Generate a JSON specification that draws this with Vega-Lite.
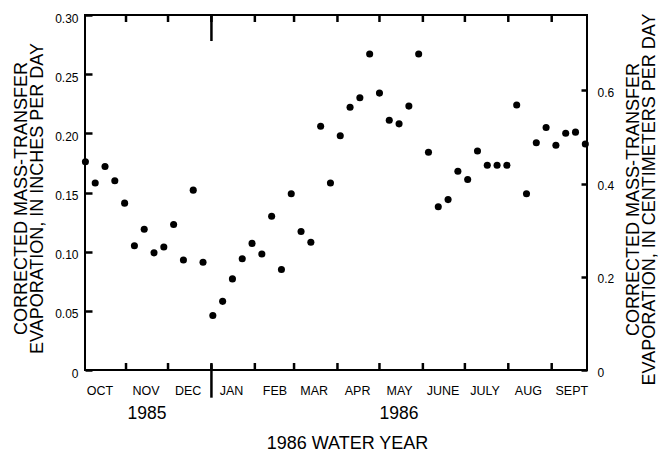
{
  "$schema": "https://vega.github.io/schema/vega-lite/v6.json",
  "width": 502,
  "height": 355,
  "autosize": {"type": "none"},
  "padding": {"left": 85, "top": 15, "right": 71, "bottom": 81},
  "background": "white",
  "config": {
    "view": {"stroke": "black", "strokeWidth": 2},
    "font": "Liberation Sans",
    "axis": {
      "domain": false,
      "grid": false,
      "labelColor": "black",
      "titleColor": "black",
      "labelFont": "Liberation Sans",
      "titleFont": "Liberation Sans",
      "titleFontWeight": "normal",
      "tickColor": "black",
      "tickWidth": 2.5
    }
  },
  "datasets": {
    "evap": [
      {"date": "1985-10-03", "inches": 0.176},
      {"date": "1985-10-10", "inches": 0.158},
      {"date": "1985-10-17", "inches": 0.172},
      {"date": "1985-10-24", "inches": 0.160},
      {"date": "1985-10-31", "inches": 0.141},
      {"date": "1985-11-07", "inches": 0.105},
      {"date": "1985-11-14", "inches": 0.119},
      {"date": "1985-11-21", "inches": 0.099},
      {"date": "1985-11-28", "inches": 0.104},
      {"date": "1985-12-05", "inches": 0.123},
      {"date": "1985-12-12", "inches": 0.093},
      {"date": "1985-12-19", "inches": 0.152},
      {"date": "1985-12-26", "inches": 0.091},
      {"date": "1986-01-02", "inches": 0.046},
      {"date": "1986-01-09", "inches": 0.058},
      {"date": "1986-01-16", "inches": 0.077},
      {"date": "1986-01-23", "inches": 0.094},
      {"date": "1986-01-30", "inches": 0.107},
      {"date": "1986-02-06", "inches": 0.098},
      {"date": "1986-02-13", "inches": 0.130},
      {"date": "1986-02-20", "inches": 0.085},
      {"date": "1986-02-27", "inches": 0.149},
      {"date": "1986-03-06", "inches": 0.117},
      {"date": "1986-03-13", "inches": 0.108},
      {"date": "1986-03-20", "inches": 0.206},
      {"date": "1986-03-27", "inches": 0.158},
      {"date": "1986-04-03", "inches": 0.198},
      {"date": "1986-04-10", "inches": 0.222},
      {"date": "1986-04-17", "inches": 0.230},
      {"date": "1986-04-24", "inches": 0.267},
      {"date": "1986-05-01", "inches": 0.234},
      {"date": "1986-05-08", "inches": 0.211},
      {"date": "1986-05-15", "inches": 0.208},
      {"date": "1986-05-22", "inches": 0.223},
      {"date": "1986-05-29", "inches": 0.267},
      {"date": "1986-06-05", "inches": 0.184},
      {"date": "1986-06-12", "inches": 0.138},
      {"date": "1986-06-19", "inches": 0.144},
      {"date": "1986-06-26", "inches": 0.168},
      {"date": "1986-07-03", "inches": 0.161},
      {"date": "1986-07-10", "inches": 0.185},
      {"date": "1986-07-17", "inches": 0.173},
      {"date": "1986-07-24", "inches": 0.173},
      {"date": "1986-07-31", "inches": 0.173},
      {"date": "1986-08-07", "inches": 0.224},
      {"date": "1986-08-14", "inches": 0.149},
      {"date": "1986-08-21", "inches": 0.192},
      {"date": "1986-08-28", "inches": 0.205},
      {"date": "1986-09-04", "inches": 0.190},
      {"date": "1986-09-11", "inches": 0.200},
      {"date": "1986-09-18", "inches": 0.201},
      {"date": "1986-09-25", "inches": 0.191}
    ]
  },
  "layer": [
    {
      "layer": [
        {
          "data": {"name": "evap"},
          "mark": {"type": "circle", "size": 50, "color": "black", "opacity": 1},
          "encoding": {
            "x": {
              "field": "date",
              "type": "temporal",
              "scale": {
                "type": "utc",
                "domain": [
                  {"year": 1985, "month": 10, "date": 2, "hours": 17, "utc": true},
                  {"year": 1986, "month": 9, "date": 26, "hours": 5, "utc": true}
                ]
              },
              "axis": {
                "orient": "bottom",
                "values": [
                  {"year": 1985, "month": 10, "date": 13, "utc": true},
                  {"year": 1985, "month": 11, "date": 15, "utc": true},
                  {"year": 1985, "month": 12, "date": 15, "utc": true},
                  {"year": 1986, "month": 1, "date": 15, "utc": true},
                  {"year": 1986, "month": 2, "date": 15, "utc": true},
                  {"year": 1986, "month": 3, "date": 15, "utc": true},
                  {"year": 1986, "month": 4, "date": 15, "utc": true},
                  {"year": 1986, "month": 5, "date": 15, "utc": true},
                  {"year": 1986, "month": 6, "date": 15, "utc": true},
                  {"year": 1986, "month": 7, "date": 15, "utc": true},
                  {"year": 1986, "month": 8, "date": 15, "utc": true},
                  {"year": 1986, "month": 9, "date": 15, "utc": true}
                ],
                "ticks": false,
                "labelExpr": "['JAN','FEB','MAR','APR','MAY','JUNE','JULY','AUG','SEPT','OCT','NOV','DEC'][utcmonth(datum.value)]",
                "labelFontSize": 12.5,
                "labelPadding": 14,
                "labelAlign": "center",
                "title": "1986 WATER YEAR",
                "titleFontSize": 18,
                "titleX": 262,
                "titleY": 78,
                "titleAlign": "center",
                "titleBaseline": "alphabetic"
              }
            },
            "y": {
              "field": "inches",
              "type": "quantitative",
              "scale": {"domain": [0, 0.3], "nice": false, "zero": true},
              "axis": {
                "orient": "left",
                "values": [0, 0.05, 0.1, 0.15, 0.2, 0.25, 0.3],
                "labelExpr": "datum.value == 0 ? '0' : format(datum.value, '.2f')",
                "labelFontSize": 12,
                "offset": -7,
                "tickSize": 7,
                "labelPadding": 7,
                "labelOffset": 3,
                "title": ["CORRECTED MASS-TRANSFER", "EVAPORATION, IN INCHES PER DAY"],
                "titleFontSize": 18,
                "titleLineHeight": 16.5,
                "titleAngle": -90,
                "titleX": -66,
                "titleY": 183,
                "titleAlign": "center",
                "titleBaseline": "alphabetic"
              }
            }
          }
        },
        {
          "data": {"values": [
            {"date": "1985-11-01"}, {"date": "1985-12-01"}, {"date": "1986-01-01"},
            {"date": "1986-02-01"}, {"date": "1986-03-01"}, {"date": "1986-04-01"},
            {"date": "1986-05-01"}, {"date": "1986-06-01"}, {"date": "1986-07-01"},
            {"date": "1986-08-01"}, {"date": "1986-09-01"}
          ]},
          "layer": [
            {
              "mark": {"type": "rule", "color": "black", "strokeWidth": 2.5},
              "encoding": {
                "x": {"field": "date", "type": "temporal"},
                "y": {"datum": 0.0001},
                "y2": {"datum": 0.0059}
              }
            },
            {
              "mark": {"type": "rule", "color": "black", "strokeWidth": 2.5},
              "encoding": {
                "x": {"field": "date", "type": "temporal"},
                "y": {"datum": 0.2999},
                "y2": {"datum": 0.2941}
              }
            }
          ]
        },
        {
          "data": {"values": [{"date": "1986-01-01"}]},
          "layer": [
            {
              "mark": {"type": "rule", "color": "black", "strokeWidth": 2.5},
              "encoding": {
                "x": {"field": "date", "type": "temporal"},
                "y": {"datum": 0.3},
                "y2": {"datum": 0.278}
              }
            },
            {
              "mark": {"type": "rule", "color": "black", "strokeWidth": 2.5},
              "encoding": {
                "x": {"field": "date", "type": "temporal"},
                "y": {"datum": 0.0048},
                "y2": {"datum": -0.0234}
              }
            }
          ]
        },
        {
          "data": {"values": [
            {"date": "1985-11-16", "label": "1985"},
            {"date": "1986-05-15", "label": "1986"}
          ]},
          "mark": {"type": "text", "fontSize": 17.5, "font": "Liberation Sans", "color": "black", "align": "center", "baseline": "alphabetic"},
          "encoding": {
            "x": {"field": "date", "type": "temporal"},
            "y": {"datum": -0.041},
            "text": {"field": "label"}
          }
        }
      ]
    },
    {
      "data": {"values": [{}]},
      "mark": {"type": "point", "opacity": 0},
      "encoding": {
        "y": {
          "datum": 0,
          "type": "quantitative",
          "scale": {"domain": [0, 0.762], "nice": false},
          "axis": {
            "orient": "right",
            "values": [0, 0.2, 0.4, 0.6],
            "labelExpr": "datum.value == 0 ? '0' : format(datum.value, '.1f')",
            "labelFontSize": 12,
            "offset": -6,
            "tickSize": 6,
            "labelPadding": 10,
            "labelOffset": 2,
            "title": ["CORRECTED MASS-TRANSFER", "EVAPORATION, IN CENTIMETERS PER DAY"],
            "titleFontSize": 18,
            "titleLineHeight": 16,
            "titleAngle": -90,
            "titleX": 57,
            "titleY": 184,
            "titleAlign": "center",
            "titleBaseline": "alphabetic"
          }
        }
      }
    }
  ],
  "resolve": {"scale": {"y": "independent"}}
}
